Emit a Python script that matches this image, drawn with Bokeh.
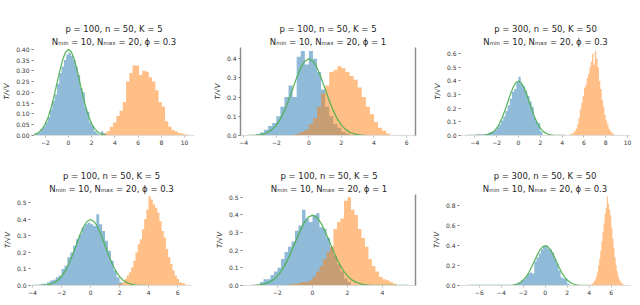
from bokeh.plotting import figure
from bokeh.layouts import column, row
from bokeh.models import Title, FixedTicker, NumeralTickFormatter, LinearAxis, Range1d
from bokeh.embed import file_html
from bokeh.resources import INLINE

# ---------------- data ----------------
titles_row1 = ["p = 100, n = 50, K = 5", "p = 100, n = 50, K = 5", "p = 300, n = 50, K = 50"]
titles_row2 = ["Nₘᵢₙ = 10, Nₘₐₓ = 20, ϕ = 0.3", "Nₘᵢₙ = 10, Nₘₐₓ = 20, ϕ = 1", "Nₘᵢₙ = 10, Nₘₐₓ = 20, ϕ = 0.3"]

# standard normal density as drawn (green curve)
curve_x = [-7.0, -6.75, -6.5, -6.25, -6.0, -5.75, -5.5, -5.25, -5.0, -4.75, -4.5, -4.25,
           -4.0, -3.75, -3.5, -3.25, -3.0, -2.75, -2.5, -2.25, -2.0, -1.75, -1.5, -1.25,
           -1.0, -0.75, -0.5, -0.25, 0.0, 0.25, 0.5, 0.75, 1.0, 1.25, 1.5, 1.75, 2.0,
           2.25, 2.5, 2.75, 3.0, 3.25, 3.5, 3.75, 4.0, 4.25, 4.5, 4.75, 5.0, 5.25, 5.5]
curve_y = [0.0, 0.0, 0.0, 0.0, 0.0, 0.0, 0.0, 0.0, 0.0, 0.0, 0.0, 0.0,
           0.0001, 0.0004, 0.0009, 0.0020, 0.0044, 0.0091, 0.0175, 0.0317, 0.0540, 0.0863, 0.1295, 0.1826,
           0.2420, 0.3011, 0.3521, 0.3867, 0.3989, 0.3867, 0.3521, 0.3011, 0.2420, 0.1826, 0.1295, 0.0863, 0.0540,
           0.0317, 0.0175, 0.0091, 0.0044, 0.0020, 0.0009, 0.0004, 0.0001, 0.0, 0.0, 0.0, 0.0, 0.0, 0.0]

# panel 1
p1_blue_start, p1_blue_width = -3.0, 0.2
p1_blue = [0.005, 0.01, 0.015, 0.03, 0.04, 0.06, 0.085, 0.12, 0.16, 0.19, 0.24, 0.29, 0.32, 0.35, 0.375,
           0.385, 0.37, 0.35, 0.32, 0.28, 0.22, 0.20, 0.13, 0.11, 0.06, 0.045, 0.02, 0.01, 0.005, 0.02, 0.01]
p1_orange_start, p1_orange_width = 3.0, 0.28
p1_orange = [0.01, 0.02, 0.04, 0.06, 0.09, 0.115, 0.155, 0.25, 0.29, 0.325, 0.325, 0.28, 0.30, 0.295,
             0.27, 0.25, 0.21, 0.155, 0.135, 0.066, 0.04, 0.025, 0.018, 0.012, 0.008, 0.005, 0.003]
p1_curve = (-3.0, 3.25)

# panel 2
p2_blue_start, p2_blue_width = -3.25, 0.25
p2_blue = [0.005, 0.015, 0.03, 0.05, 0.065, 0.10, 0.15, 0.20, 0.26, 0.20, 0.41, 0.44, 0.37, 0.44, 0.40,
           0.33, 0.24, 0.15, 0.10, 0.06, 0.04, 0.02, 0.01]
p2_orange_start, p2_orange_width = -1.0, 0.25
p2_orange = [0.005, 0.01, 0.02, 0.03, 0.06, 0.09, 0.15, 0.22, 0.26, 0.33, 0.34, 0.36, 0.35, 0.33, 0.31,
             0.29, 0.25, 0.20, 0.15, 0.11, 0.07, 0.04, 0.025, 0.01]
p2_curve = (-3.75, 3.5)

# panel 3
p3_blue_start, p3_blue_width = -4.0, 0.2
p3_blue = [0.005, 0.01, 0.01, 0.008, 0.01, 0.012, 0.02, 0.025, 0.03, 0.04, 0.06, 0.08, 0.11, 0.14, 0.18,
           0.22, 0.27, 0.32, 0.34, 0.39, 0.43, 0.38, 0.36, 0.33, 0.29, 0.25, 0.21, 0.13, 0.10, 0.09, 0.03]
p3_orange_start, p3_orange_width = 4.625, 0.125
p3_orange = [0.005, 0.01, 0.015, 0.02, 0.035, 0.05, 0.08, 0.13, 0.19, 0.24, 0.29, 0.35, 0.37, 0.42, 0.45,
             0.50, 0.54, 0.60, 0.52, 0.62, 0.56, 0.50, 0.40, 0.34, 0.26, 0.21, 0.15, 0.11, 0.08, 0.05,
             0.035, 0.02, 0.012, 0.006]
p3_curve = (-4.75, 4.25)

# panel 4
p4_blue_start, p4_blue_width = -3.6, 0.2
p4_blue = [0.005, 0.01, 0.01, 0.02, 0.03, 0.035, 0.05, 0.06, 0.10, 0.12, 0.17, 0.20, 0.24, 0.28, 0.31,
           0.35, 0.37, 0.38, 0.37, 0.36, 0.43, 0.37, 0.33, 0.27, 0.21, 0.15, 0.09, 0.05, 0.02]
p4_orange_start, p4_orange_width = 1.6, 0.15
p4_orange = [0.005, 0.005, 0.01, 0.01, 0.02, 0.04, 0.06, 0.08, 0.11, 0.15, 0.20, 0.25, 0.28, 0.34, 0.40,
             0.46, 0.54, 0.52, 0.49, 0.47, 0.44, 0.39, 0.33, 0.29, 0.22, 0.17, 0.13, 0.09, 0.06, 0.04,
             0.02, 0.015, 0.01]
p4_curve = (-4.0, 4.0)

# panel 5
p5_blue_start, p5_blue_width = -3.0, 0.2
p5_blue = [0.02, 0.035, 0.035, 0.06, 0.08, 0.10, 0.15, 0.19, 0.22, 0.25, 0.31, 0.34, 0.43, 0.38, 0.36,
           0.40, 0.41, 0.33, 0.32, 0.27, 0.22, 0.17, 0.12, 0.08, 0.04, 0.02]
p5_orange_start, p5_orange_width = -1.4, 0.2
p5_orange = [0.005, 0.01, 0.01, 0.015, 0.02, 0.02, 0.03, 0.05, 0.08, 0.11, 0.15, 0.19, 0.22, 0.32, 0.36,
             0.38, 0.48, 0.50, 0.43, 0.40, 0.32, 0.27, 0.22, 0.15, 0.11, 0.08, 0.05, 0.035, 0.03, 0.02, 0.01]
p5_curve = (-3.5, 5.5)

# panel 6
p6_blue_start, p6_blue_width = -2.8, 0.2
p6_blue = [0.01, 0.02, 0.03, 0.05, 0.06, 0.09, 0.12, 0.13, 0.12, 0.24, 0.28, 0.32, 0.36, 0.39, 0.40,
           0.37, 0.36, 0.33, 0.27, 0.22, 0.15, 0.08, 0.07, 0.07, 0.02]
p6_orange_start, p6_orange_width = 4.0, 0.1
p6_orange = [0.005, 0.01, 0.015, 0.025, 0.04, 0.06, 0.09, 0.13, 0.20, 0.27, 0.35, 0.44, 0.53, 0.62, 0.72,
             0.78, 0.89, 0.82, 0.76, 0.70, 0.58, 0.47, 0.38, 0.28, 0.20, 0.14, 0.09, 0.06, 0.04, 0.025,
             0.015, 0.008]
p6_curve = (-7.0, 4.0)

x_ticks = [[-2, 0, 2, 4, 6, 8, 10], [-4, -2, 0, 2, 4, 6], [-4, -2, 0, 2, 4, 6, 8, 10],
           [-4, -2, 0, 2, 4, 6], [-2, 0, 2, 4], [-6, -4, -2, 0, 2, 4, 6]]
y_ticks = [[0.0, 0.05, 0.10, 0.15, 0.20, 0.25, 0.30, 0.35, 0.40], [0.0, 0.1, 0.2, 0.3, 0.4],
           [0.0, 0.1, 0.2, 0.3, 0.4, 0.5, 0.6], [0.0, 0.1, 0.2, 0.3, 0.4, 0.5],
           [0.0, 0.1, 0.2, 0.3, 0.4, 0.5], [0.0, 0.2, 0.4, 0.6, 0.8]]
y_formats = ["0.00", "0.0", "0.0", "0.0", "0.0", "0.0"]

# ---------------- styling / layout ----------------
BLUE = "#1f77b4"
ORANGE = "#ff7f0e"
GREEN = "#4caf50"
TXT = "#262626"
FONT = "DejaVu Sans"


def hist_patch(p, start, width, heights, color):
    xs, ys = [start], [0.0]
    for i, h in enumerate(heights):
        left = start + i * width
        xs += [left, left + width]
        ys += [h, h]
    xs.append(start + len(heights) * width)
    ys.append(0.0)
    p.patch(xs, ys, fill_color=color, fill_alpha=0.5, line_color=None)


def make_panel(idx, width, height, borders, xr, yr, blue, orange, curve, title1, title2,
               left_spine=False, right_spine=False):
    l, r, t, b = borders
    p = figure(width=width, height=height, x_range=Range1d(*xr), y_range=Range1d(*yr),
               output_backend="svg", toolbar_location=None,
               min_border_left=l, min_border_right=r, min_border_top=t, min_border_bottom=b)
    p.outline_line_color = None
    p.xgrid.grid_line_color = None
    p.ygrid.grid_line_color = None
    p.background_fill_color = "white"
    p.border_fill_color = "white"
    p.title.text_font_size = "1px"

    hist_patch(p, blue[0], blue[1], blue[2], BLUE)
    hist_patch(p, orange[0], orange[1], orange[2], ORANGE)
    cx = [x for x in curve_x if curve[0] <= x <= curve[1]]
    cy = [y for x, y in zip(curve_x, curve_y) if curve[0] <= x <= curve[1]]
    p.line(cx, cy, line_color=GREEN, line_width=1.3, line_alpha=0.9)

    xa = p.xaxis[0]
    xa.ticker = FixedTicker(ticks=x_ticks[idx])
    xa.major_label_text_font_size = "6px"
    xa.major_label_text_font = FONT
    xa.major_label_text_color = "#333333"
    xa.major_label_standoff = 2
    xa.major_tick_out = 2
    xa.major_tick_in = 0
    xa.major_tick_line_color = "#bbbbbb"
    xa.minor_tick_line_color = None
    xa.axis_line_color = "#dddddd"

    ya = p.yaxis[0]
    ya.ticker = FixedTicker(ticks=y_ticks[idx])
    ya.formatter = NumeralTickFormatter(format=y_formats[idx])
    ya.major_label_text_font_size = "6px"
    ya.major_label_text_font = FONT
    ya.major_label_text_color = "#333333"
    ya.major_label_standoff = 2
    ya.major_tick_out = 2
    ya.major_tick_in = 0
    ya.major_tick_line_color = "#777777"
    ya.minor_tick_line_color = None
    ya.axis_line_color = "#8c8c8c" if left_spine else None
    ya.axis_line_width = 1.5
    ya.axis_label = "T/√V"
    ya.axis_label_text_font = FONT
    ya.axis_label_text_font_size = "7px"
    ya.axis_label_text_color = TXT
    ya.axis_label_standoff = 2

    if right_spine:
        ax = LinearAxis(ticker=FixedTicker(ticks=[]), major_tick_line_color=None,
                        minor_tick_line_color=None, major_label_text_font_size="0px",
                        major_label_standoff=0, axis_line_color="#8c8c8c", axis_line_width=1.5)
        p.add_layout(ax, "right")

    # two-line title, then a blank spacer on the outside to push the lines down
    for text in (title2, title1):
        p.add_layout(Title(text=text, align="center", text_font=FONT, text_font_size="8.5px",
                           text_font_style="normal", text_color=TXT, standoff=1, offset=0), "above")
    p.add_layout(Title(text=" ", text_font_size="8px"), "above")
    return p


f1 = make_panel(0, 206, 147, (32, 12, 37, 11), (-3.02, 10.86), (0, 0.408),
                (p1_blue_start, p1_blue_width, p1_blue), (p1_orange_start, p1_orange_width, p1_orange),
                p1_curve, titles_row1[0], titles_row2[0])
f2 = make_panel(1, 216, 147, (34, 7, 34, 11), (-4.2, 6.55), (0, 0.458),
                (p2_blue_start, p2_blue_width, p2_blue), (p2_orange_start, p2_orange_width, p2_orange),
                p2_curve, titles_row1[1], titles_row2[1], left_spine=True, right_spine=True)
f3 = make_panel(2, 210, 147, (38, 2, 35, 11), (-5.32, 10.27), (0, 0.645),
                (p3_blue_start, p3_blue_width, p3_blue), (p3_orange_start, p3_orange_width, p3_orange),
                p3_curve, titles_row1[2], titles_row2[2])
f4 = make_panel(3, 206, 150, (30, 14, 43, 9), (-4.14, 7.03), (0, 0.55),
                (p4_blue_start, p4_blue_width, p4_blue), (p4_orange_start, p4_orange_width, p4_orange),
                p4_curve, titles_row1[0], titles_row2[0])
f5 = make_panel(4, 216, 150, (36, 7, 43, 9), (-4.0, 5.89), (0, 0.516),
                (p5_blue_start, p5_blue_width, p5_blue), (p5_orange_start, p5_orange_width, p5_orange),
                p5_curve, titles_row1[1], titles_row2[1], right_spine=True)
f6 = make_panel(5, 210, 150, (37, 2, 43, 9), (-7.8, 7.75), (0, 0.91),
                (p6_blue_start, p6_blue_width, p6_blue), (p6_orange_start, p6_orange_width, p6_orange),
                p6_curve, titles_row1[2], titles_row2[2])

layout = column(row(f1, f2, f3), row(f4, f5, f6))
open("out.html", "w").write(file_html(layout, INLINE))
